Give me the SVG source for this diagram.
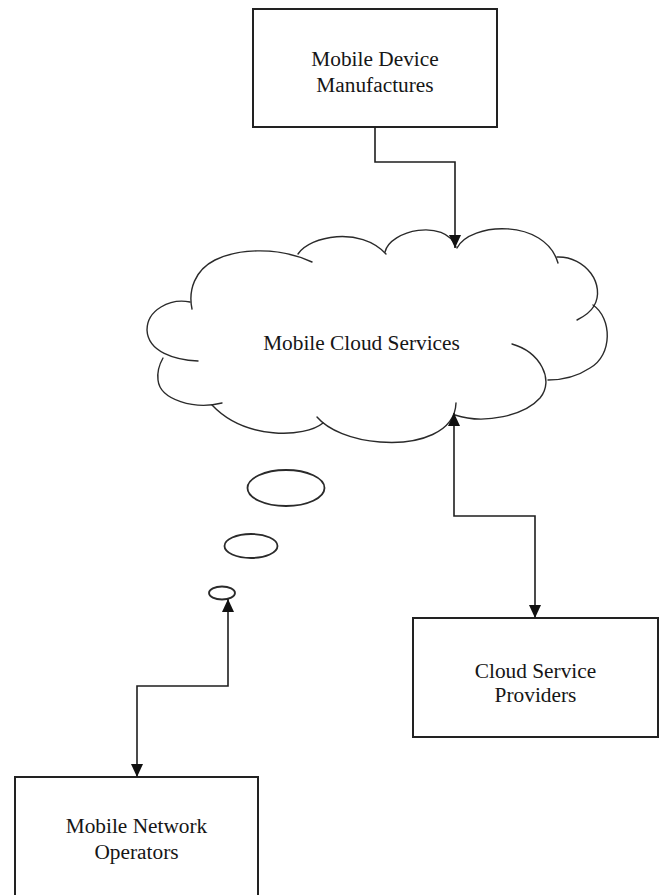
<svg xmlns="http://www.w3.org/2000/svg" width="664" height="895" viewBox="0 0 664 895">
  <style>
    .box { fill: #ffffff; stroke: #222222; stroke-width: 2; }
    .lbl { font-family: "Liberation Serif", "Times New Roman", serif; font-size: 21.33px; fill: #161616; text-anchor: middle; }
    .lobe { fill: none; stroke: #2a2a2a; stroke-width: 1.4; stroke-linecap: round; }
    .bubble { fill: #ffffff; stroke: #2a2a2a; stroke-width: 1.8; }
    .wire { fill: none; stroke: #1e1e1e; stroke-width: 1.6; }
  </style>
  <defs>
    <marker id="tri" viewBox="0 0 13 12" markerWidth="13" markerHeight="12" refX="13" refY="6" orient="auto-start-reverse" markerUnits="userSpaceOnUse">
      <path d="M0,0 L13,6 L0,12 Z" fill="#111111"/>
    </marker>
  </defs>

  <rect width="664" height="895" fill="#ffffff"/>

  <!-- cloud node: each lobe is its own open arc, some with short inner tails -->
  <g id="mobile-cloud-services">
    <path class="lobe" d="M192,309 C188,290 195,270 215,260 C235,250 275,245 312,262"/>
    <path class="lobe" d="M298,254 C310,236 360,226 386,254"/>
    <path class="lobe" d="M385,252 C390,230 445,218 456,247"/>
    <path class="lobe" d="M457,248 C470,222 545,218 558,263"/>
    <path class="lobe" d="M557,257 C586,256 606,285 594,306 C590,313 583,317 577,320"/>
    <path class="lobe" d="M593,305 C612,318 613,355 590,368 C578,376 562,380 548,380"/>
    <path class="lobe" d="M512,344 C540,352 555,380 540,398 C525,415 485,425 455,415"/>
    <path class="lobe" d="M456,403 C455,432 420,445 380,442 C352,440 328,430 317,417"/>
    <path class="lobe" d="M323,423 C305,438 245,440 212,405"/>
    <path class="lobe" d="M222,403 C195,410 160,400 158,380 C157,372 159,365 163,358"/>
    <path class="lobe" d="M198,361 C175,360 148,352 147,330 C147,310 170,298 190,302"/>
    <text class="lbl" x="361.5" y="350">Mobile Cloud Services</text>
  </g>

  <!-- thought bubbles trailing from the cloud -->
  <g id="thought-bubbles">
    <ellipse class="bubble" cx="286" cy="488" rx="38.5" ry="18"/>
    <ellipse class="bubble" cx="251" cy="546" rx="26.5" ry="12"/>
    <ellipse class="bubble" cx="222" cy="593" rx="13" ry="6.5"/>
  </g>

  <g id="mobile-device-manufactures">
    <rect class="box" x="253" y="9" width="244" height="118"/>
    <text class="lbl" x="375" y="66">Mobile Device</text>
    <text class="lbl" x="375" y="92">Manufactures</text>
  </g>

  <g id="cloud-service-providers">
    <rect class="box" x="413" y="618" width="245" height="119"/>
    <text class="lbl" x="535.5" y="678">Cloud Service</text>
    <text class="lbl" x="535.5" y="702">Providers</text>
  </g>

  <g id="mobile-network-operators">
    <rect class="box" x="15" y="777" width="243" height="122"/>
    <text class="lbl" x="136.5" y="833">Mobile Network</text>
    <text class="lbl" x="136.5" y="859">Operators</text>
  </g>

  <g id="connectors">
    <path class="wire" d="M375,127 V162 H455 V248" marker-end="url(#tri)"/>
    <path class="wire" d="M454,413 V516 H535 V618" marker-start="url(#tri)" marker-end="url(#tri)"/>
    <path class="wire" d="M228,599 V686 H137 V777" marker-start="url(#tri)" marker-end="url(#tri)"/>
  </g>
</svg>
